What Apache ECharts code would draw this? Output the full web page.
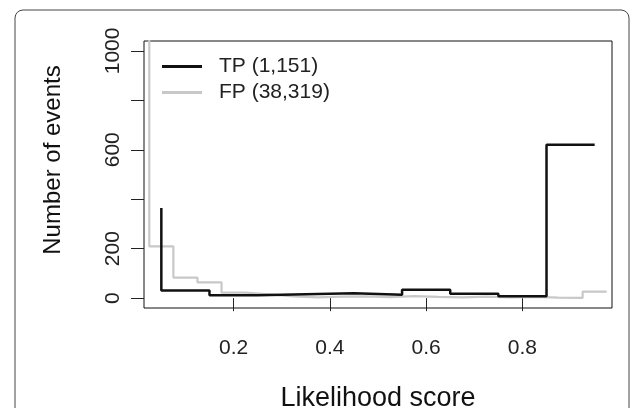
<!DOCTYPE html>
<html>
<head>
<meta charset="utf-8">
<script src="https://cdn.jsdelivr.net/npm/echarts@6/dist/echarts.min.js"></script>
<style>
html,body{margin:0;padding:0;background:#fff;}
#chart{width:637px;height:408px;}
</style>
</head>
<body>
<div id="chart"></div>
<script>
// TP histogram (step line, vertical-first)
const tpX = [0.05, 0.15, 0.25, 0.35, 0.45, 0.55, 0.65, 0.75, 0.85, 0.95];
const tpY = [365, 31, 12, 16, 20, 14, 34, 18, 8, 620];
// FP histogram (first value is far above the plotted range)
const fpX = [0.025, 0.075, 0.125, 0.175, 0.225, 0.275, 0.325, 0.375, 0.425, 0.475,
             0.525, 0.575, 0.625, 0.675, 0.725, 0.775, 0.825, 0.875, 0.925, 0.975];
const fpY = [37000, 209, 83, 64, 22, 15, 7, 3, 6, 7, 4, 8, 5, 3, 6, 3, 5, 2, 1, 26];
const seriesNames = ['TP (1,151)', 'FP (38,319)'];
const xTicks = [0.2, 0.4, 0.6, 0.8];
const yTicks = [0, 200, 400, 600, 800, 1000];
const yLabels = [0, 200, 600, 1000];
const xTitle = 'Likelihood score';
const yTitle = 'Number of events';

const zip = (a, b) => a.map((v, i) => [v, b[i]]);
const FONT = 'Liberation Sans, Arial, Helvetica, sans-serif';

const chart = echarts.init(document.getElementById('chart'), null, {renderer: 'canvas'});
chart.setOption({
  animation: false,
  backgroundColor: '#fff',
  grid: {left: 144, top: 41, width: 468, height: 267, show: true,
         outerBoundsMode: 'none', containLabel: false,
         borderColor: '#111', borderWidth: 1, backgroundColor: 'transparent'},
  legend: {
    orient: 'vertical', left: 162, top: 56, padding: 0,
    icon: 'rect', itemWidth: 40, itemHeight: 3, itemGap: 5,
    data: [seriesNames[0], seriesNames[1]],
    textStyle: {fontFamily: FONT, fontSize: 21, color: '#222', lineHeight: 20, padding: [0, 0, 0, 12]}
  },
  xAxis: {
    type: 'value', min: 0.014, max: 0.986,
    splitLine: {show: false},
    axisLine: {show: false},
    axisTick: {show: true, length: 13, customValues: xTicks, lineStyle: {color: '#222'}},
    axisLabel: {customValues: xTicks, margin: 30, fontFamily: FONT, fontSize: 21, color: '#222',
                formatter: v => v.toFixed(1)},
    name: xTitle, nameLocation: 'middle', nameGap: 77,
    nameTextStyle: {fontFamily: FONT, fontSize: 27, color: '#111'}
  },
  yAxis: {
    type: 'value', min: -40, max: 1040,
    splitLine: {show: false},
    axisLine: {show: false},
    axisTick: {show: true, length: 13, customValues: yTicks, lineStyle: {color: '#222'}},
    axisLabel: {customValues: yLabels, rotate: 90, margin: 20, fontFamily: FONT, fontSize: 21, color: '#222',
                formatter: v => String(v)}
  },
  graphic: [
    {type: 'rect', silent: true, z: -1,
     shape: {x: 15, y: 10, width: 614, height: 420, r: 8},
     style: {fill: 'none', stroke: '#444', lineWidth: 1}},
    {type: 'text', silent: true, x: 53.5, y: 160, rotation: Math.PI / 2,
     style: {text: yTitle, font: '24px ' + FONT, fill: '#111', textAlign: 'center', textVerticalAlign: 'middle'}}
  ],
  series: [
    {name: seriesNames[1], type: 'line', step: 'start', symbol: 'none', clip: true,
     color: '#c8c8c8', lineStyle: {color: '#c8c8c8', width: 2.2}, data: zip(fpX, fpY), z: 2},
    {name: seriesNames[0], type: 'line', step: 'start', symbol: 'none', clip: true,
     color: '#111', lineStyle: {color: '#111', width: 2.5}, data: zip(tpX, tpY), z: 3}
  ]
});
</script>
</body>
</html>
